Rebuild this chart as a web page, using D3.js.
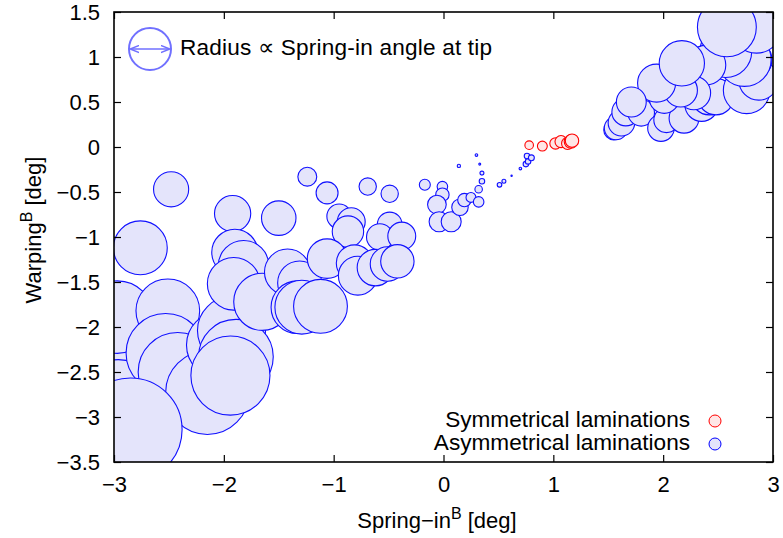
<!DOCTYPE html>
<html><head><meta charset="utf-8">
<script src="https://cdn.jsdelivr.net/npm/d3@7"></script>
<style>body{margin:0;background:#fff}text{font-family:"Liberation Sans",Arial,sans-serif;fill:#000}</style>
</head><body><svg id="c" width="783" height="538"></svg>
<script>
// Asymmetrical laminations: spring-in (x), warping (y), spring-in angle at tip (radius, x units)
const asymX = [-3.04,-2.96,-2.97,-2.51,-2.53,-2.42,-2.15,-2.85,-2.04,-1.93,-1.89,-1.94,
  -2.48,-2.76,-1.92,-1.50,-1.90,-1.82,-1.91,-1.65,-1.42,-1.31,-1.33,-1.29,-1.12,
  -1.24,-1.06,-0.69,-0.49,-0.17,-0.95,-0.84,-0.87,-0.49,-0.58,-0.38,-1.06,-0.81,-0.78,-0.62,-0.51,-0.42,
  -0.01,-0.01,-0.06,-0.04,0.07,0.15,0.19,0.25,0.32,0.32,0.35,0.35,0.33,0.30,0.14,0.51,0.55,0.62,0.70,0.75,0.77,0.76,0.80,
  1.55,1.57,1.62,1.66,1.80,1.98,2.03,2.22,2.19,2.01,2.35,2.42,2.48,2.76,2.87,2.81,2.74,2.57,2.39,2.15,2.28,2.16,1.94,1.71,2.17,2.85,2.58];
const asymY = [-2.42,-2.79,-1.89,-1.82,-2.29,-2.50,-2.73,-3.14,-2.20,-2.04,-2.33,-2.54,
  -0.47,-1.12,-0.74,-0.79,-1.17,-1.32,-1.52,-1.72,-1.39,-1.51,-1.78,-1.78,-1.77,
  -0.33,-0.51,-0.44,-0.52,-0.42,-0.77,-0.83,-0.94,-0.86,-1.00,-0.99,-1.24,-1.29,-1.43,-1.34,-1.30,-1.27,
  -0.44,-0.53,-0.64,-0.83,-0.83,-0.67,-0.59,-0.56,-0.61,-0.47,-0.38,-0.29,-0.19,-0.09,-0.21,-0.42,-0.38,-0.32,-0.24,-0.19,-0.16,-0.10,-0.12,
  0.19,0.21,0.27,0.39,0.38,0.21,0.30,0.36,0.32,0.54,0.47,0.56,0.56,0.63,0.74,0.97,0.97,1.06,0.91,0.71,0.60,0.63,0.71,0.50,0.93,1.32,1.33];
const asymR = [0.36,0.35,0.33,0.29,0.36,0.36,0.38,0.47,0.30,0.31,0.34,0.36,
  0.16,0.245,0.165,0.157,0.21,0.23,0.24,0.26,0.21,0.20,0.24,0.245,0.245,
  0.086,0.10,0.079,0.079,0.05,0.112,0.127,0.143,0.112,0.121,0.127,0.18,0.166,0.177,0.166,0.157,0.152,
  0.048,0.061,0.085,0.091,0.091,0.075,0.061,0.045,0.048,0.034,0.025,0.018,0.009,0.012,0.015,0.021,0.018,0.006,0.012,0.025,0.025,0.025,0.027,
  0.091,0.106,0.121,0.127,0.121,0.121,0.115,0.115,0.136,0.136,0.152,0.166,0.166,0.212,0.18,0.18,0.243,0.236,0.18,0.166,0.152,0.152,0.173,0.136,0.206,0.227,0.268];
// Symmetrical laminations
const symX = [0.78,0.90,1.02,1.07,1.13,1.16,1.17];
const symY = [0.02,0.01,0.04,0.06,0.04,0.06,0.07];
const symR = [0.039,0.045,0.052,0.055,0.055,0.061,0.061];
const xTicks = [-3,-2,-1,0,1,2,3];
const yTicks = [1.5,1,0.5,0,-0.5,-1,-1.5,-2,-2.5,-3,-3.5];

const FS = 22, LFS = 22.6;
const svg = d3.select("#c");
const L=114, R=773, T=12, B=462;
const x = d3.scaleLinear().domain([-3,3]).range([L,R]);
const y = d3.scaleLinear().domain([-3.5,1.5]).range([B,T]);
const rpx = v => x(v) - x(0);
const fmt = v => (v<0?"\u2212":"") + Math.abs(v);

svg.append("clipPath").attr("id","pa").append("rect").attr("x",L).attr("y",T).attr("width",R-L).attr("height",B-T);
const g = svg.append("g").attr("clip-path","url(#pa)");
const asym = asymX.map((v,i)=>({x:v,y:asymY[i],r:asymR[i]}));
const sym = symX.map((v,i)=>({x:v,y:symY[i],r:symR[i]}));
g.selectAll("circle.a").data(asym).join("circle").attr("class","a")
  .attr("cx",d=>x(d.x)).attr("cy",d=>y(d.y)).attr("r",d=>Math.max(rpx(d.r),0.6))
  .attr("fill","#e4e4fb").attr("stroke","#1010ff").attr("stroke-width",1.1);
g.selectAll("circle.s").data(sym).join("circle").attr("class","s")
  .attr("cx",d=>x(d.x)).attr("cy",d=>y(d.y)).attr("r",d=>rpx(d.r))
  .attr("fill","#ffe6e6").attr("stroke","#ff0000").attr("stroke-width",1.1);

// axes with inward ticks on all sides
const tl=7;
svg.append("g").attr("transform",`translate(0,${B})`).call(d3.axisBottom(x).tickValues(xTicks).tickSize(-tl).tickPadding(14).tickFormat(fmt))
  .call(a=>{a.select(".domain").remove();a.selectAll("text").attr("font-size",FS);});
svg.append("g").attr("transform",`translate(0,${T})`).call(d3.axisTop(x).tickValues(xTicks).tickSize(-tl).tickFormat(""))
  .call(a=>a.select(".domain").remove());
svg.append("g").attr("transform",`translate(${L},0)`).call(d3.axisLeft(y).tickValues(yTicks).tickSize(-tl).tickPadding(14).tickFormat(fmt))
  .call(a=>{a.select(".domain").remove();a.selectAll("text").attr("font-size",FS);});
svg.append("g").attr("transform",`translate(${R},0)`).call(d3.axisRight(y).tickValues(yTicks).tickSize(-tl).tickFormat(""))
  .call(a=>a.select(".domain").remove());
svg.selectAll(".tick line").attr("stroke","#000").attr("stroke-width",1.2);
svg.selectAll(".tick text").attr("fill","#000");
svg.append("rect").attr("x",L).attr("y",T).attr("width",R-L).attr("height",B-T).attr("fill","none").attr("stroke","#000").attr("stroke-width",1.6);

// axis labels
const xl = svg.append("text").attr("x",437).attr("y",528).attr("text-anchor","middle").attr("font-size",FS);
xl.append("tspan").text("Spring\u2212in");
xl.append("tspan").attr("dy",-9).attr("font-size",16).text("B");
xl.append("tspan").attr("dy",9).text(" [deg]");
const yl = svg.append("text").attr("transform","translate(41,230) rotate(-90)").attr("text-anchor","middle").attr("font-size",FS);
yl.append("tspan").text("Warping");
yl.append("tspan").attr("dy",-9).attr("font-size",16).text("B");
yl.append("tspan").attr("dy",9).text(" [deg]");

// radius legend
svg.append("defs").html('<marker id="ah" viewBox="0 0 10 10" refX="9" refY="5" markerWidth="6" markerHeight="6" orient="auto-start-reverse"><path d="M0,1L10,5L0,9" fill="none" stroke="#7070ff" stroke-width="1.5"/></marker>');
svg.append("circle").attr("cx",150).attr("cy",49).attr("r",21).attr("fill","#fff").attr("stroke","#7070ff").attr("stroke-width",2);
svg.append("line").attr("x1",131).attr("x2",169).attr("y1",49).attr("y2",49).attr("stroke","#7070ff").attr("stroke-width",1.5)
  .attr("marker-start","url(#ah)").attr("marker-end","url(#ah)");
svg.append("text").attr("x",180).attr("y",55).attr("font-size",LFS).attr("letter-spacing",0.2).text("Radius \u221d Spring-in angle at tip");

// series legend
const leg = [{t:"Symmetrical laminations",s:"#ff0000",f:"#ffe6e6",yy:427},{t:"Asymmetrical laminations",s:"#0000ff",f:"#e4e4fb",yy:450}];
leg.forEach(d=>{
  svg.append("text").attr("x",690).attr("y",d.yy).attr("text-anchor","end").attr("font-size",LFS).text(d.t);
  svg.append("circle").attr("cx",715).attr("cy",d.yy-6).attr("r",6).attr("fill",d.f).attr("stroke",d.s).attr("stroke-width",1);
});
</script></body></html>
